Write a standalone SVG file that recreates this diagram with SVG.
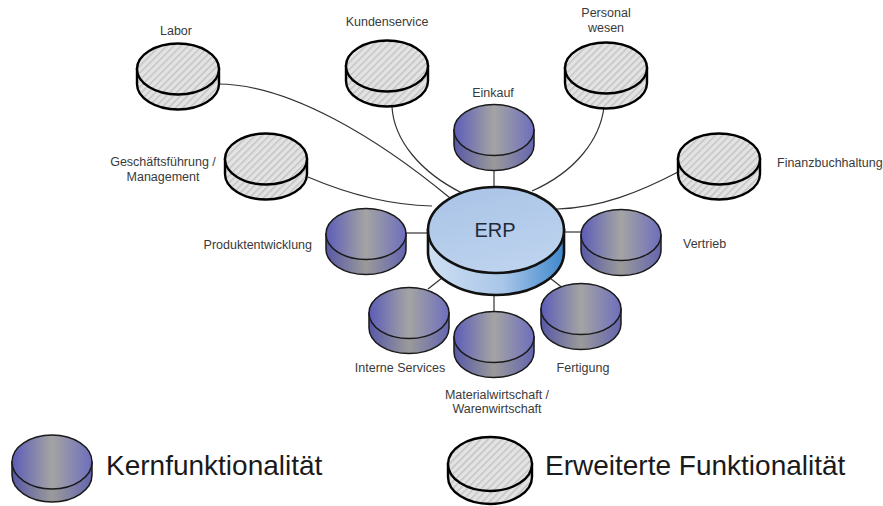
<svg xmlns="http://www.w3.org/2000/svg" xmlns:xlink="http://www.w3.org/1999/xlink" width="883" height="506" viewBox="0 0 883 506">
<style>
.lbl{font-family:"Liberation Sans",Arial,sans-serif;font-size:12.5px;fill:#3a3a3a;text-anchor:middle}
.lbl.s{text-anchor:start}
.lbl.e{text-anchor:end}
.leg{font-family:"Liberation Sans",Arial,sans-serif;font-size:28px;fill:#1a1a1a}
.conn{fill:none;stroke:#333;stroke-width:1.2}
.core{stroke:#1a1a1a;stroke-width:1.5}
.ext{stroke:#000;stroke-width:2.4}
</style>
<defs>
<linearGradient id="coreTop" x1="0" y1="0" x2="1" y2="0">
<stop offset="0" stop-color="#5c5cb8"/>
<stop offset="0.5" stop-color="#a4a4a4"/>
<stop offset="1" stop-color="#6e6ebe"/>
</linearGradient>
<linearGradient id="coreSide" x1="0" y1="0" x2="1" y2="0">
<stop offset="0" stop-color="#5858a8"/>
<stop offset="0.5" stop-color="#9a9a9a"/>
<stop offset="1" stop-color="#6565b0"/>
</linearGradient>
<linearGradient id="erpTop" x1="0" y1="0" x2="0.4" y2="1">
<stop offset="0" stop-color="#a9c3e6"/>
<stop offset="1" stop-color="#bcd2ee"/>
</linearGradient>
<linearGradient id="erpSide" x1="0" y1="0" x2="1" y2="0">
<stop offset="0" stop-color="#cfe0f3"/>
<stop offset="0.55" stop-color="#a9c6e8"/>
<stop offset="1" stop-color="#3f88cc"/>
</linearGradient>
<pattern id="hatch" width="5" height="5" patternUnits="userSpaceOnUse" patternTransform="rotate(45)">
<rect width="5" height="5" fill="#e3e3e3"/>
<rect width="1.4" height="5" fill="#c2c2c2"/>
</pattern>
<g id="coreDisk" class="core">
<path d="M-40,0 v15 a40,25.5 0 0 0 80,0 v-15 z" fill="url(#coreSide)"/>
<ellipse rx="40" ry="25.5" fill="url(#coreTop)"/>
</g>
<g id="extDisk" class="ext">
<path d="M-41,0 v15 a41,25.5 0 0 0 82,0 v-15 z" fill="url(#hatch)"/>
<ellipse rx="41" ry="25.5" fill="url(#hatch)"/>
</g>
</defs>
<rect width="883" height="506" fill="#ffffff"/>

<g id="connectors">
<path class="conn" d="M218,84 C290,84 380,140 450,198"/>
<path class="conn" d="M392,107 C394,140 420,172 462,193"/>
<path class="conn" d="M604,107 C600,140 575,172 532,191"/>
<path class="conn" d="M678,172 C640,192 600,208 557,209"/>
<path class="conn" d="M308,177 C350,195 390,205 432,206"/>
<path class="conn" d="M404,233 L430,233"/>
<path class="conn" d="M562,232 L583,232"/>
<path class="conn" d="M494,170 L494,188"/>
<path class="conn" d="M428,289 L442,278"/>
<path class="conn" d="M494,294 L494,313"/>
<path class="conn" d="M550,278 L564,289"/>
</g>

<g id="erp">
<path d="M428,230 v22 a68,43 0 0 0 136,0 v-22 z" fill="url(#erpSide)" stroke="#111" stroke-width="2.6"/>
<ellipse cx="496" cy="230" rx="68" ry="43" fill="url(#erpTop)" stroke="#111" stroke-width="2.6"/>
<text x="495" y="237" style="font-family:'Liberation Sans',Arial,sans-serif;font-size:20px;fill:#1f2a3a;text-anchor:middle">ERP</text>
</g>

<g id="labor">
<use href="#extDisk" x="178" y="69"/>
<text class="lbl" x="176" y="35">Labor</text>
</g>
<g id="kundenservice">
<use href="#extDisk" x="387" y="66"/>
<text class="lbl" x="387" y="26">Kundenservice</text>
</g>
<g id="personalwesen">
<use href="#extDisk" x="606" y="68"/>
<text class="lbl" x="606" y="17">Personal</text>
<text class="lbl" x="606" y="32">wesen</text>
</g>
<g id="einkauf">
<use href="#coreDisk" x="494" y="130"/>
<text class="lbl" x="493" y="97">Einkauf</text>
</g>
<g id="geschaeftsfuehrung">
<use href="#extDisk" x="266" y="159"/>
<text class="lbl" x="163" y="166">Geschäftsführung /</text>
<text class="lbl" x="163" y="181">Management</text>
</g>
<g id="finanzbuchhaltung">
<use href="#extDisk" x="719" y="159"/>
<text class="lbl s" x="777" y="167">Finanzbuchhaltung</text>
</g>
<g id="produktentwicklung">
<use href="#coreDisk" x="366" y="234"/>
<text class="lbl e" x="312" y="249">Produktentwicklung</text>
</g>
<g id="vertrieb">
<use href="#coreDisk" x="621" y="235"/>
<text class="lbl s" x="683" y="248">Vertrieb</text>
</g>
<g id="interne-services">
<use href="#coreDisk" x="409" y="313"/>
<text class="lbl" x="400" y="372">Interne Services</text>
</g>
<g id="materialwirtschaft">
<use href="#coreDisk" x="494" y="337"/>
<text class="lbl" x="497" y="399">Materialwirtschaft /</text>
<text class="lbl" x="497" y="413">Warenwirtschaft</text>
</g>
<g id="fertigung">
<use href="#coreDisk" x="581" y="309"/>
<text class="lbl" x="583" y="372">Fertigung</text>
</g>

<g id="legend-core">
<path d="M12,462 v13 a40,27 0 0 0 80,0 v-13 z" fill="url(#coreSide)" class="core"/>
<ellipse cx="52" cy="462" rx="40" ry="27" fill="url(#coreTop)" class="core"/>
<text class="leg" x="106" y="475">Kernfunktionalität</text>
</g>
<g id="legend-ext">
<path d="M448,464 v13 a42,27 0 0 0 84,0 v-13 z" fill="url(#hatch)" class="ext"/>
<ellipse cx="490" cy="464" rx="42" ry="27" fill="url(#hatch)" class="ext"/>
<text class="leg" x="545" y="475">Erweiterte Funktionalität</text>
</g>
</svg>
